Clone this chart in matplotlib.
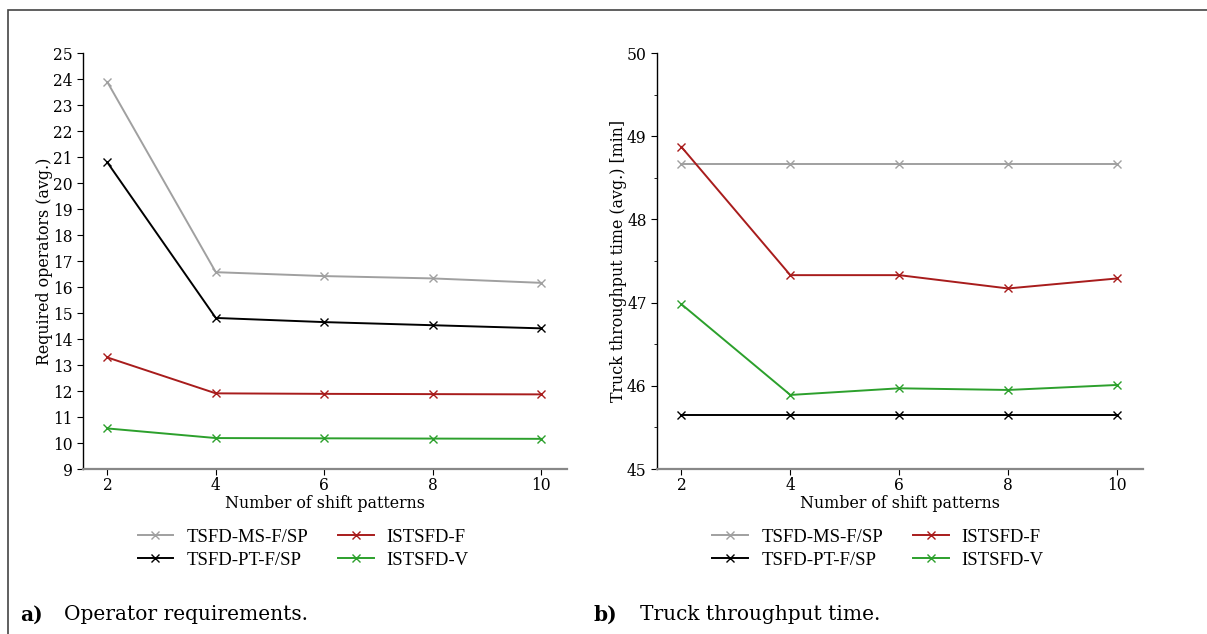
import matplotlib.pyplot as plt
from matplotlib.patches import Rectangle
from matplotlib.ticker import MultipleLocator

# shift pattern counts on the x axis
patterns = [2, 4, 6, 8, 10]
series_names = ["TSFD-MS-F/SP", "TSFD-PT-F/SP", "ISTSFD-F", "ISTSFD-V"]
colors = ["#a0a0a0", "#000000", "#a81c1c", "#2ca02c"]

# required operators (avg.)
ops_ms = [23.88, 16.57, 16.42, 16.33, 16.16]
ops_pt = [20.79, 14.81, 14.65, 14.53, 14.41]
ops_f = [13.29, 11.91, 11.89, 11.88, 11.87]
ops_v = [10.56, 10.19, 10.18, 10.17, 10.16]

# truck throughput time (avg.) [min]
ttt_ms = [48.67, 48.67, 48.67, 48.67, 48.67]
ttt_pt = [45.65, 45.65, 45.65, 45.65, 45.65]
ttt_f = [48.87, 47.33, 47.33, 47.17, 47.29]
ttt_v = [46.98, 45.89, 45.97, 45.95, 46.01]

serif = "DejaVu Serif"
plt.rcParams["font.family"] = serif

fig = plt.figure(figsize=(12.07, 6.34), dpi=100)

# frame around the figure panel
fig.patches.append(Rectangle((8 / 1207, -0.1), 1.1, 1 - 10 / 634 + 0.1,
                             transform=fig.transFigure, fill=False,
                             edgecolor="#444444", linewidth=1.2))

ax1 = fig.add_axes([83 / 1207, 1 - 469 / 634, 484 / 1207, 416 / 634])
ax2 = fig.add_axes([657 / 1207, 1 - 469 / 634, 486 / 1207, 416 / 634])


def style_axis(ax):
    ax.spines["top"].set_visible(False)
    ax.spines["right"].set_visible(False)
    ax.spines["bottom"].set_color("#888888")
    ax.spines["bottom"].set_linewidth(1.6)
    ax.spines["left"].set_linewidth(1.0)
    ax.set_xlim(1.55, 10.48)
    ax.set_xticks(patterns)
    ax.tick_params(labelsize=11.2, length=4, width=0.8)
    ax.tick_params(axis="x", pad=1.5)
    ax.set_xlabel("Number of shift patterns", fontsize=11.4, labelpad=1)


for ax, data in [(ax1, [ops_ms, ops_pt, ops_f, ops_v]),
                 (ax2, [ttt_ms, ttt_pt, ttt_f, ttt_v])]:
    for name, vals, c in zip(series_names, data, colors):
        ax.plot(patterns, vals, color=c, marker="x", markersize=5.5,
                markeredgewidth=1.0, linewidth=1.4, label=name)
    style_axis(ax)
    ax.legend(loc="upper center", bbox_to_anchor=(0.455, -0.103), ncol=2,
              frameon=False, prop={"family": "Liberation Serif", "size": 13.5},
              handlelength=1.9, handletextpad=0.7, columnspacing=1.6,
              labelspacing=0.3)

ax1.set_ylim(9, 25)
ax1.set_yticks(range(9, 26))
ax1.set_ylabel("Required operators (avg.)", fontsize=11.4, labelpad=0)

ax2.set_ylim(45, 50)
ax2.set_yticks(range(45, 51))
ax2.yaxis.set_minor_locator(MultipleLocator(0.5))
ax2.tick_params(axis="y", which="minor", length=2, width=0.6)
ax2.set_ylabel("Truck throughput time (avg.) [min]", fontsize=11.4, labelpad=0)

# sub-figure captions
fig.text(20 / 1207, 1 - 615 / 634, "a)", fontsize=14.5, fontweight="bold", va="center")
fig.text(64 / 1207, 1 - 615 / 634, "Operator requirements.", fontsize=14.5, va="center")
fig.text(594 / 1207, 1 - 615 / 634, "b)", fontsize=14.5, fontweight="bold", va="center")
fig.text(640 / 1207, 1 - 615 / 634, "Truck throughput time.", fontsize=14.5, va="center")

fig.savefig("out.png", dpi=100)
